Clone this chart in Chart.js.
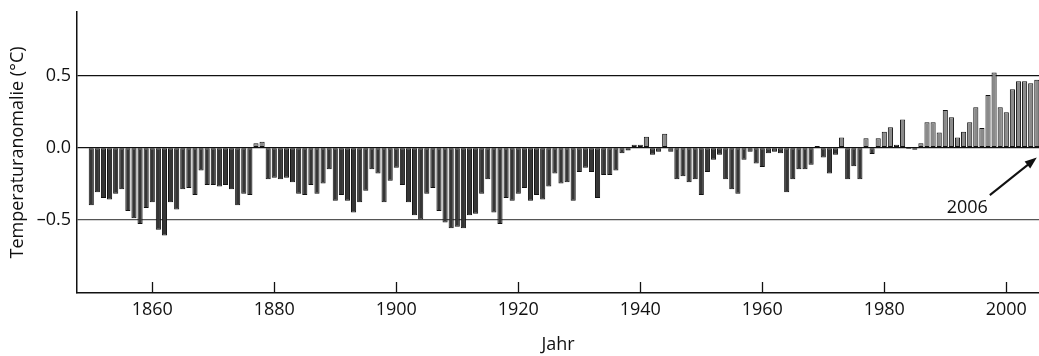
<!DOCTYPE html>
<html>
<head>
<meta charset="utf-8">
<script src="https://cdn.jsdelivr.net/npm/chart.js"></script>
<style>
  html, body { margin: 0; padding: 0; background: #fff; }
  #wrap { width: 1039px; height: 356px; }
</style>
</head>
<body>
<div id="wrap"><canvas id="chart"></canvas></div>
<script>
// annual temperature anomaly, one value per year from 1850
const firstYear = 1850;
const anomalies = [
  -0.40, -0.31, -0.35, -0.36, -0.32, -0.29, -0.44, -0.49, -0.53, -0.42,
  -0.38, -0.57, -0.61, -0.38, -0.43, -0.29, -0.28, -0.33, -0.16, -0.26,
  -0.26, -0.27, -0.26, -0.29, -0.40, -0.32, -0.33, 0.03, 0.04, -0.22,
  -0.21, -0.22, -0.21, -0.24, -0.32, -0.33, -0.26, -0.32, -0.25, -0.15,
  -0.37, -0.33, -0.37, -0.45, -0.38, -0.30, -0.15, -0.18, -0.38, -0.23,
  -0.14, -0.26, -0.38, -0.47, -0.50, -0.32, -0.28, -0.44, -0.52, -0.56,
  -0.55, -0.56, -0.47, -0.46, -0.32, -0.22, -0.45, -0.53, -0.35, -0.37,
  -0.32, -0.28, -0.37, -0.33, -0.36, -0.27, -0.18, -0.25, -0.24, -0.37,
  -0.17, -0.14, -0.17, -0.35, -0.19, -0.19, -0.16, -0.04, -0.02, 0.02,
  0.02, 0.075, -0.05, -0.03, 0.095, -0.03, -0.22, -0.20, -0.24, -0.22,
  -0.33, -0.17, -0.085, -0.05, -0.22, -0.29, -0.32, -0.085, -0.03, -0.11,
  -0.135, -0.04, -0.03, -0.04, -0.31, -0.22, -0.15, -0.15, -0.12, 0.01,
  -0.07, -0.18, -0.05, 0.07, -0.22, -0.13, -0.22, 0.065, -0.045, 0.065,
  0.11, 0.14, 0.02, 0.195, -0.01, -0.015, 0.03, 0.175, 0.175, 0.105,
  0.26, 0.21, 0.07, 0.11, 0.175, 0.28, 0.135, 0.365, 0.52, 0.28,
  0.245, 0.405, 0.46, 0.46, 0.445, 0.47, 0.42
];
const years = anomalies.map((_, i) => firstYear + i);
const xTicks = [1860, 1880, 1900, 1920, 1940, 1960, 1980, 2000];
const yTicks = [-0.5, 0, 0.5];
const xTitle = 'Jahr';
const yTitle = 'Temperaturanomalie (°C)';
const noteText = '2006';

const FONT = "'Open Sans', 'Noto Sans', sans-serif";
const FSIZE = 18;

// inside tick marks on the x axis, plus the arrow note
const extras = {
  id: 'extras',
  afterDraw(chart) {
    const { ctx, chartArea } = chart;
    const x = chart.scales.x, y = chart.scales.y;
    ctx.save();
    ctx.strokeStyle = '#111';
    ctx.lineWidth = 1.3;
    xTicks.forEach(t => {
      const px = Math.round(x.getPixelForValue(t)) + 0.5;
      ctx.beginPath();
      ctx.moveTo(px, chartArea.bottom);
      ctx.lineTo(px, chartArea.bottom - 11);
      ctx.stroke();
    });

    // arrow towards the last year
    const x0 = x.getPixelForValue(1997.3), y0 = y.getPixelForValue(-0.33);
    const x1 = x.getPixelForValue(2005.0), y1 = y.getPixelForValue(-0.07);
    const ang = Math.atan2(y1 - y0, x1 - x0);
    const head = 12, half = 4.5;
    ctx.lineWidth = 2;
    ctx.beginPath();
    ctx.moveTo(x0, y0);
    ctx.lineTo(x1 - Math.cos(ang) * head * 0.8, y1 - Math.sin(ang) * head * 0.8);
    ctx.stroke();
    ctx.fillStyle = '#111';
    ctx.beginPath();
    ctx.moveTo(x1, y1);
    ctx.lineTo(x1 - Math.cos(ang) * head - Math.sin(ang) * half, y1 - Math.sin(ang) * head + Math.cos(ang) * half);
    ctx.lineTo(x1 - Math.cos(ang) * head + Math.sin(ang) * half, y1 - Math.sin(ang) * head - Math.cos(ang) * half);
    ctx.closePath();
    ctx.fill();

    ctx.font = FSIZE + 'px ' + FONT;
    ctx.textAlign = 'center';
    ctx.textBaseline = 'middle';
    ctx.fillText(noteText, x.getPixelForValue(1993.6), y.getPixelForValue(-0.42));
    ctx.restore();
  }
};

new Chart(document.getElementById('chart'), {
  type: 'bar',
  data: {
    datasets: [{
      data: years.map((yr, i) => ({ x: yr, y: anomalies[i] })),
      backgroundColor: ctx => (ctx.raw && ctx.raw.y > 0 ? '#8a8a8a' : '#353535'),
      borderColor: '#111',
      borderWidth: 1,
      borderSkipped: false,
      barPercentage: 0.84,
      categoryPercentage: 1
    }]
  },
  options: {
    responsive: true,
    maintainAspectRatio: false,
    devicePixelRatio: 1,
    animation: false,
    layout: { padding: { top: 12, right: 0, bottom: 0, left: 0 } },
    plugins: {
      legend: { display: false },
      tooltip: { enabled: false }
    },
    scales: {
      x: {
        type: 'linear',
        offset: false,
        min: 1847.66,
        max: 2005.36,
        afterBuildTicks: s => { s.ticks = xTicks.map(v => ({ value: v })); },
        afterFit: s => { s.height = 63; s.paddingLeft = 0; s.paddingRight = 0; },
        grid: { display: false, drawTicks: false },
        border: { display: true, color: '#111', width: 1.5 },
        ticks: {
          padding: 6,
          color: '#111',
          maxRotation: 0,
          font: { family: FONT, size: FSIZE },
          callback: v => String(v)
        },
        title: {
          display: true,
          text: xTitle,
          color: '#111',
          font: { family: FONT, size: FSIZE },
          padding: { top: 0, bottom: 0 }
        }
      },
      y: {
        min: -1.009,
        max: 0.94,
        afterBuildTicks: s => { s.ticks = yTicks.map(v => ({ value: v })); },
        afterFit: s => { s.width = 77; s.paddingTop = 0; s.paddingBottom = 0; },
        grid: {
          drawTicks: false,
          color: c => (c.tick && c.tick.value < 0 ? '#555' : '#111'),
          lineWidth: 1.3
        },
        border: { display: true, color: '#111', width: 1.5 },
        ticks: {
          padding: 6,
          color: '#111',
          font: { family: FONT, size: FSIZE },
          callback: v => v.toFixed(1).replace('-', '\u2013')
        },
        title: {
          display: true,
          text: yTitle,
          color: '#111',
          font: { family: FONT, size: FSIZE },
          padding: { top: 7, bottom: 0 }
        }
      }
    }
  },
  plugins: [extras]
});
</script>
</body>
</html>
